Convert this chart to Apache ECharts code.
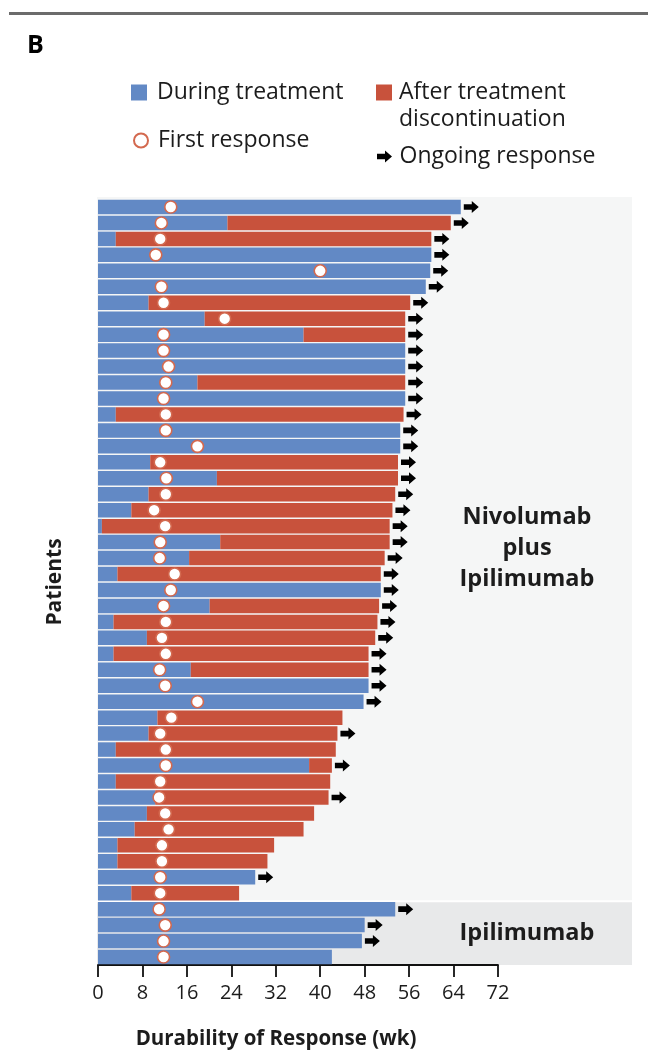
<!DOCTYPE html>
<html>
<head>
<meta charset="utf-8">
<script src="https://cdn.jsdelivr.net/npm/echarts@6/dist/echarts.min.js"></script>
<style>
  html, body { margin: 0; padding: 0; background: #ffffff; }
  #chart { width: 648px; height: 1055px; }
</style>
</head>
<body>
<div id="chart"></div>
<script>
// Duration of response per patient, in weeks (top row first).
// Blue segment: response while on treatment; red segment: response after discontinuation.
const onTreatment = [
  65.3, 23.3, 3.2, 60.0, 59.8, 59.0, 9.1, 19.2, 37.0, 55.3, 55.3,
  17.9, 55.3, 3.2, 54.4, 54.4, 9.4, 21.4, 9.1, 6.0, 0.7, 22.0,
  16.4, 3.5, 50.9, 20.1, 2.8, 8.8, 2.8, 16.7, 48.7, 47.8, 10.7,
  9.1, 3.2, 38.0, 3.2, 10.3, 8.8, 6.6, 3.5, 3.5, 28.3, 6.0,
  53.5, 48.0, 47.5, 42.1
];
const offTreatment = [
  0, 40.2, 56.8, 0, 0, 0, 47.1, 36.1, 18.3, 0, 0,
  37.4, 0, 51.8, 0, 0, 44.6, 32.6, 44.4, 47.0, 51.8, 30.5,
  35.2, 47.4, 0, 30.5, 47.5, 41.1, 45.9, 32.0, 0, 0, 33.3,
  34.0, 39.6, 4.1, 38.6, 31.2, 30.1, 30.4, 28.2, 27.0, 0, 19.4,
  0, 0, 0, 0
];
// Week of first response
const firstResponse = [
  13.1, 11.4, 11.2, 10.4, 40.0, 11.4, 11.8, 22.8, 11.8, 11.8, 12.7,
  12.2, 11.8, 12.2, 12.2, 17.9, 11.2, 12.3, 12.2, 10.1, 12.1, 11.2,
  11.1, 13.8, 13.1, 11.8, 12.2, 11.5, 12.2, 11.1, 12.1, 17.9, 13.2,
  11.2, 12.2, 12.2, 11.2, 11.0, 12.1, 12.7, 11.5, 11.5, 11.2, 11.2,
  11.0, 12.1, 11.8, 11.8
];
// 1 = response still ongoing at data cutoff
const ongoing = [
  1, 1, 1, 1, 1, 1, 1, 1, 1, 1, 1,
  1, 1, 1, 1, 1, 1, 1, 1, 1, 1, 1,
  1, 1, 1, 1, 1, 1, 1, 1, 1, 1, 0,
  1, 0, 1, 0, 1, 0, 0, 0, 0, 1, 0,
  1, 1, 1, 0
];
// Treatment groups, in row order
const groupNames = ['Nivolumab\nplus\nIpilimumab', 'Ipilimumab'];
const groupSizes = [44, 4];
const groupFills = ['#f5f6f6', '#e8e9ea'];
// Axis ticks
const xTicks = [0, 8, 16, 24, 32, 40, 48, 56, 64, 72];

const patients = onTreatment.map((_, i) => 'Patient ' + (i + 1));

const BLUE = '#6289c5';
const RED = '#c8523c';
const RING = '#d3694f';
const INK = '#1c1c1c';
const FONT = '"Open Sans"';
const ARROW = 'path://M0,3.2 L8,3.2 L8,0 L15,6 L8,12 L8,8.8 L0,8.8 Z';

const chart = echarts.init(document.getElementById('chart'), null, { renderer: 'canvas' });

const firstData = firstResponse.map((v, i) => [v, patients[i]]);
const arrowData = [];
ongoing.forEach((flag, i) => {
  if (flag) arrowData.push([onTreatment[i] + offTreatment[i], patients[i]]);
});

const legendText = (lineHeight, gap) => ({
  fontFamily: FONT, fontSize: 23, color: INK, lineHeight: lineHeight, padding: [0, 0, 0, gap]
});

chart.setOption({
  animation: false,
  backgroundColor: '#ffffff',
  textStyle: { fontFamily: FONT },
  grid: { left: 98, width: 400, top: 199, height: 766, containLabel: false, outerBoundsMode: 'none' },
  legend: [
    {
      data: ['During treatment'], left: 131, top: 81, padding: 0,
      itemWidth: 16, itemHeight: 16, icon: 'rect',
      textStyle: legendText(16, 5)
    },
    {
      data: ['After treatment discontinuation'], left: 376, top: 81, padding: 0,
      itemWidth: 16, itemHeight: 16, icon: 'rect',
      formatter: () => 'After treatment',
      textStyle: legendText(16, 2)
    },
    {
      data: ['First response'], left: 133, top: 129, padding: 0,
      itemWidth: 14, itemHeight: 14, icon: 'circle',
      itemStyle: { color: '#ffffff', borderColor: RING, borderWidth: 2 },
      textStyle: legendText(14, 5)
    },
    {
      data: ['Ongoing response'], left: 377, top: 145, padding: 0,
      itemWidth: 16, itemHeight: 12, icon: ARROW,
      itemStyle: { color: '#000000' },
      textStyle: legendText(12, 2)
    }
  ],
  xAxis: {
    type: 'value', min: xTicks[0], max: xTicks[xTicks.length - 1],
    interval: xTicks[1] - xTicks[0],
    name: 'Durability of Response (wk)', nameLocation: 'middle', nameGap: 64,
    nameTextStyle: { fontFamily: FONT, fontSize: 20.5, fontWeight: 'bold', color: INK, padding: [0, 44, 0, 0] },
    axisLine: { show: true, lineStyle: { color: '#111', width: 1.8 } },
    axisTick: { show: true, length: 12, lineStyle: { color: '#111', width: 1.8 } },
    axisLabel: { fontFamily: FONT, fontSize: 20, color: INK, margin: 18 },
    splitLine: { show: false }
  },
  yAxis: {
    type: 'category', data: patients, inverse: true, show: false
  },
  series: [
    {
      name: 'During treatment', type: 'bar', stack: 'response', data: onTreatment,
      barWidth: 14.5, itemStyle: { color: BLUE }, z: 2
    },
    {
      name: 'After treatment discontinuation', type: 'bar', stack: 'response', data: offTreatment,
      barWidth: 14.5, itemStyle: { color: RED }, z: 2
    },
    {
      name: 'First response', type: 'scatter', data: firstData,
      symbol: 'circle', symbolSize: 12,
      itemStyle: { color: '#ffffff', borderColor: RING, borderWidth: 1.6, opacity: 1 },
      z: 4
    },
    {
      name: 'Ongoing response', type: 'scatter', data: arrowData,
      symbol: ARROW, symbolSize: [15, 12], symbolOffset: [10.5, 0],
      itemStyle: { color: '#000000', opacity: 1 },
      z: 4
    }
  ]
});

// Group background panels and titles, sized from the category axis.
const rowY = i => chart.convertToPixel({ yAxisIndex: 0 }, patients[i]);
const band = rowY(1) - rowY(0);
const panelLeft = chart.convertToPixel({ xAxisIndex: 0 }, 0) - 1;
const panelRight = 632;
const graphics = [
  { type: 'rect', shape: { x: 9, y: 12, width: 639, height: 3 }, style: { fill: '#6b6b6b' }, z: 0 },
  { type: 'text', x: 27, y: 46, style: { text: 'B', font: 'bold 25px ' + FONT, fill: '#000', textVerticalAlign: 'middle' }, z: 10 },
  { type: 'text', x: 399, y: 119, style: { text: 'discontinuation', font: '23px ' + FONT, fill: INK, textVerticalAlign: 'middle' }, z: 10 },
  { type: 'text', x: 55, y: 582, rotation: Math.PI / 2,
    style: { text: 'Patients', font: 'bold 21px ' + FONT, fill: INK, textAlign: 'center', textVerticalAlign: 'middle' }, z: 10 }
];
let start = 0;
groupSizes.forEach((size, g) => {
  const end = start + size - 1;
  const top = rowY(start) - band / 2 + (g === 0 ? -2 : 1);
  const bottom = rowY(end) + band / 2 - (g === 0 ? 1 : 0);
  graphics.push({
    type: 'rect', shape: { x: panelLeft, y: top, width: panelRight - panelLeft, height: bottom - top },
    style: { fill: groupFills[g] }, z: -1
  });
  graphics.push({
    type: 'text', x: 527, y: (top + bottom) / 2,
    style: { text: groupNames[g], font: 'bold 23.5px ' + FONT, fill: INK, textAlign: 'center', textVerticalAlign: 'middle', lineHeight: 31 },
    z: 10
  });
  start += size;
});
chart.setOption({ graphic: { elements: graphics } });
</script>
</body>
</html>
